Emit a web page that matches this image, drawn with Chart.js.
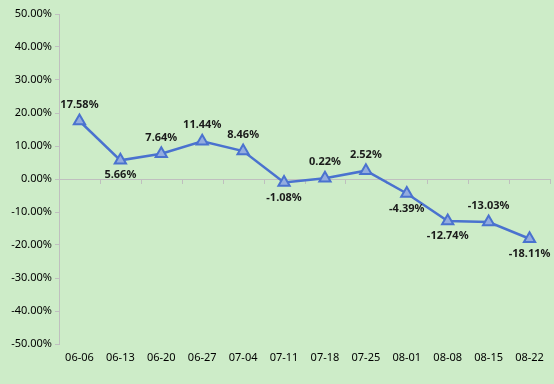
<!DOCTYPE html>
<html>
<head>
<meta charset="utf-8">
<script src="https://cdn.jsdelivr.net/npm/chart.js@4/dist/chart.umd.min.js"></script>
<style>
  html, body { margin: 0; padding: 0; background: #cdecc8; }
  #wrap { width: 554px; height: 384px; }
</style>
</head>
<body>
<div id="wrap"><canvas id="weeklyChart"></canvas></div>
<script>
// 주간 수익률 (%)
const weeks = ['06-06', '06-13', '06-20', '06-27', '07-04', '07-11', '07-18', '07-25', '08-01', '08-08', '08-15', '08-22'];
const returns = [17.58, 5.66, 7.64, 11.44, 8.46, -1.08, 0.22, 2.52, -4.39, -12.74, -13.03, -18.11];
const labelSide = ['up', 'down', 'up', 'up', 'up', 'down', 'up', 'up', 'down', 'down', 'up', 'down'];
const yMin = -50, yMax = 50, yStep = 10;

const axisColor = '#bfbfbf';
const fontFamily = '"Noto Sans", "DejaVu Sans", sans-serif';

// 0% 기준선 + 카테고리 경계 눈금
const zeroLinePlugin = {
    id: 'zeroLine',
    beforeDatasetsDraw(chart) {
        const { ctx, chartArea, scales } = chart;
        const y0 = scales.y.getPixelForValue(0);
        const half = (scales.x.getPixelForValue(1) - scales.x.getPixelForValue(0)) / 2;
        ctx.save();
        ctx.strokeStyle = axisColor;
        ctx.lineWidth = 1;
        ctx.beginPath();
        ctx.moveTo(chartArea.left, Math.round(y0) + 0.5);
        ctx.lineTo(chartArea.right, Math.round(y0) + 0.5);
        for (let i = 0; i <= weeks.length; i++) {
            const x = Math.round(scales.x.getPixelForValue(i) - half) + 0.5;
            ctx.moveTo(x, y0);
            ctx.lineTo(x, y0 + 5);
        }
        ctx.stroke();
        ctx.restore();
    }
};

// 데이터 라벨
const valueLabelPlugin = {
    id: 'valueLabels',
    afterDatasetsDraw(chart) {
        const { ctx } = chart;
        const meta = chart.getDatasetMeta(0);
        ctx.save();
        ctx.font = 'bold 11px ' + fontFamily;
        ctx.fillStyle = '#1a1a1a';
        ctx.textAlign = 'center';
        ctx.textBaseline = 'middle';
        meta.data.forEach((pt, i) => {
            const dy = labelSide[i] === 'up' ? -16 : 15;
            ctx.fillText(returns[i].toFixed(2) + '%', pt.x, pt.y + dy);
        });
        ctx.restore();
    }
};

new Chart(document.getElementById('weeklyChart'), {
    type: 'line',
    data: {
        labels: weeks,
        datasets: [{
            data: returns,
            borderColor: '#4a72cf',
            borderWidth: 2.5,
            backgroundColor: '#93acdf',
            pointStyle: 'triangle',
            pointRadius: 6.5,
            pointBorderWidth: 2,
            pointBorderColor: '#4a72cf',
            pointBackgroundColor: '#93acdf',
            tension: 0
        }]
    },
    options: {
        responsive: true,
        maintainAspectRatio: false,
        animation: false,
        layout: { autoPadding: false, padding: { top: 14, right: 4, left: 0, bottom: 0 } },
        plugins: {
            legend: { display: false },
            tooltip: { enabled: false }
        },
        scales: {
            x: {
                offset: true,
                grid: { display: false, drawTicks: false },
                border: { display: false },
                ticks: {
                    color: '#000',
                    padding: 7,
                    maxRotation: 0,
                    font: { family: fontFamily, size: 11 }
                },
                afterFit(scale) { scale.height = 40; }
            },
            y: {
                min: yMin,
                max: yMax,
                grid: {
                    drawOnChartArea: false,
                    drawTicks: true,
                    tickLength: 4,
                    color: axisColor
                },
                border: { color: axisColor },
                ticks: {
                    stepSize: yStep,
                    color: '#000',
                    padding: 3,
                    font: { family: fontFamily, size: 11 },
                    callback: v => v.toFixed(2) + '%'
                },
                afterFit(scale) { scale.width = 59; }
            }
        }
    },
    plugins: [zeroLinePlugin, valueLabelPlugin]
});
</script>
</body>
</html>
